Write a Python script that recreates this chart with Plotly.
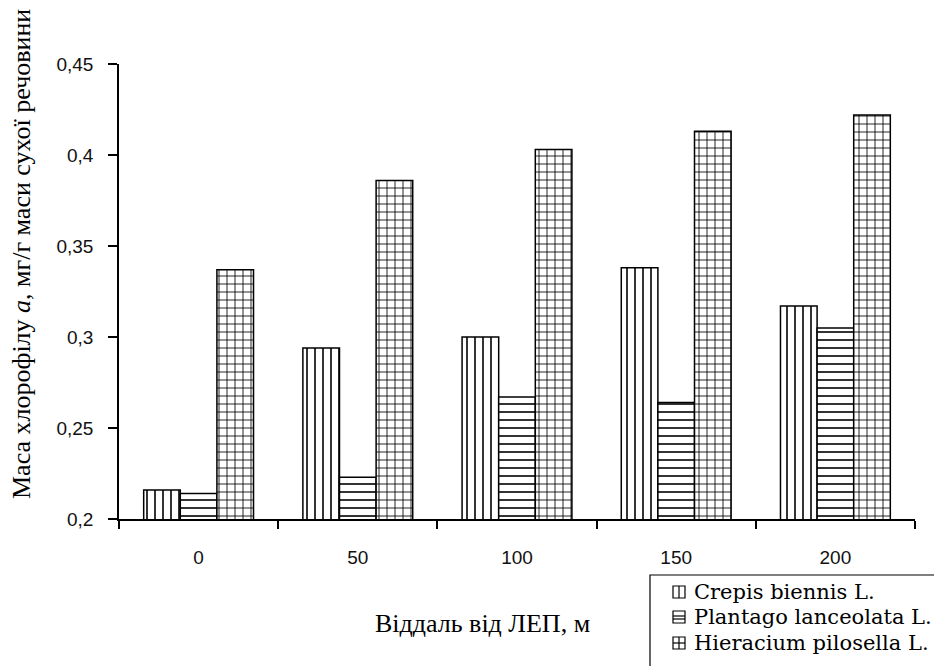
import plotly.graph_objects as go

categories = ["0", "50", "100", "150", "200"]
crepis = [0.216, 0.294, 0.300, 0.338, 0.317]
plantago = [0.214, 0.223, 0.267, 0.264, 0.305]
hieracium = [0.337, 0.386, 0.403, 0.413, 0.422]
series_names = ["Crepis biennis L.", "Plantago lanceolata L.", "Hieracium pilosella L."]
y_tickvals = [0.2, 0.25, 0.3, 0.35, 0.4, 0.45]
y_ticktext = ["0,2", "0,25", "0,3", "0,35", "0,4", "0,45"]
x_title = "Віддаль від ЛЕП, м"
y_title = "Маса хлорофілу <i>a</i>, мг/г маси сухої речовини"

W, H = 934, 666
ML, MR, MT, MB = 119, 19, 64, 147
PW, PH = W - ML - MR, H - MT - MB


def px(x):
    return (x - ML) / PW


def py(y):
    return (H - MB - y) / PH


shapes_pat = ["|", "-", "+"]
fig = go.Figure()
for name, vals, shp in zip(series_names, [crepis, plantago, hieracium], shapes_pat):
    fig.add_trace(go.Bar(
        x=categories, y=vals, name=name, showlegend=False,
        marker=dict(
            color="white",
            line=dict(color="black", width=1.5),
            pattern=dict(shape=shp, fgcolor="black", bgcolor="white",
                         size=8, solidity=0.2, fillmode="replace"),
        ),
    ))

tick_font = dict(family="Liberation Sans, Arial", size=19, color="#111111")

# hand-made legend (box running off the page edge, as in the reference)
shapes = [dict(type="rect", xref="paper", yref="paper",
               x0=px(650), x1=px(960), y0=py(575), y1=py(700),
               line=dict(color="black", width=1.2), fillcolor="white", layer="above")]
annotations = []
row_y = [592, 617, 643]
ix0, ix1 = 673, 685
for i, (name, ry) in enumerate(zip(series_names, row_y)):
    line = dict(color="black", width=1.2)
    shapes.append(dict(type="rect", xref="paper", yref="paper",
                       x0=px(ix0), x1=px(ix1), y0=py(ry + 6), y1=py(ry - 6),
                       line=line, fillcolor="white", layer="above"))
    cx = (ix0 + ix1) / 2
    if shapes_pat[i] in ("|", "+"):
        shapes.append(dict(type="line", xref="paper", yref="paper",
                           x0=px(cx), x1=px(cx), y0=py(ry + 6), y1=py(ry - 6),
                           line=line, layer="above"))
    if shapes_pat[i] == "+":
        shapes.append(dict(type="line", xref="paper", yref="paper",
                           x0=px(ix0), x1=px(ix1), y0=py(ry), y1=py(ry),
                           line=line, layer="above"))
    if shapes_pat[i] == "-":
        for dy in (-1, 2):
            shapes.append(dict(type="line", xref="paper", yref="paper",
                               x0=px(ix0), x1=px(ix1), y0=py(ry + dy), y1=py(ry + dy),
                               line=line, layer="above"))
    annotations.append(dict(text=name, xref="paper", yref="paper", x=px(692), y=py(ry),
                            xanchor="left", yanchor="middle", showarrow=False,
                            font=dict(family="DejaVu Serif", size=21, color="black")))

annotations += [
    dict(text=x_title, xref="paper", yref="paper", x=px(482), y=py(623),
         xanchor="center", yanchor="middle", showarrow=False,
         font=dict(family="Liberation Serif", size=26, color="black")),
    dict(text=y_title, xref="paper", yref="paper", x=px(22), y=py(254),
         xanchor="center", yanchor="middle", showarrow=False, textangle=-90,
         font=dict(family="Liberation Serif", size=26, color="black")),
]

fig.update_layout(
    width=W, height=H,
    margin=dict(l=ML, r=MR, t=MT, b=MB, autoexpand=False),
    paper_bgcolor="white", plot_bgcolor="white",
    barmode="group", bargap=0.31, bargroupgap=0,
    showlegend=False,
    xaxis=dict(
        type="category", range=[-0.5, 4.5],
        showline=True, linecolor="black", linewidth=1.5,
        ticks="outside", tickson="boundaries", ticklen=8, tickcolor="black", tickwidth=1.5,
        tickfont=tick_font, ticklabelstandoff=20,
        showgrid=False, zeroline=False,
    ),
    yaxis=dict(
        range=[0.2, 0.45],
        showline=True, linecolor="black", linewidth=1.5,
        ticks="outside", ticklen=9, tickcolor="black", tickwidth=1.5,
        tickvals=y_tickvals, ticktext=y_ticktext,
        tickfont=tick_font, ticklabelstandoff=11,
        showgrid=False, zeroline=False,
    ),
    shapes=shapes,
    annotations=annotations,
)

fig.write_html("out.html", config={"displayModeBar": False},
               post_script="document.body.style.margin='0px';")
